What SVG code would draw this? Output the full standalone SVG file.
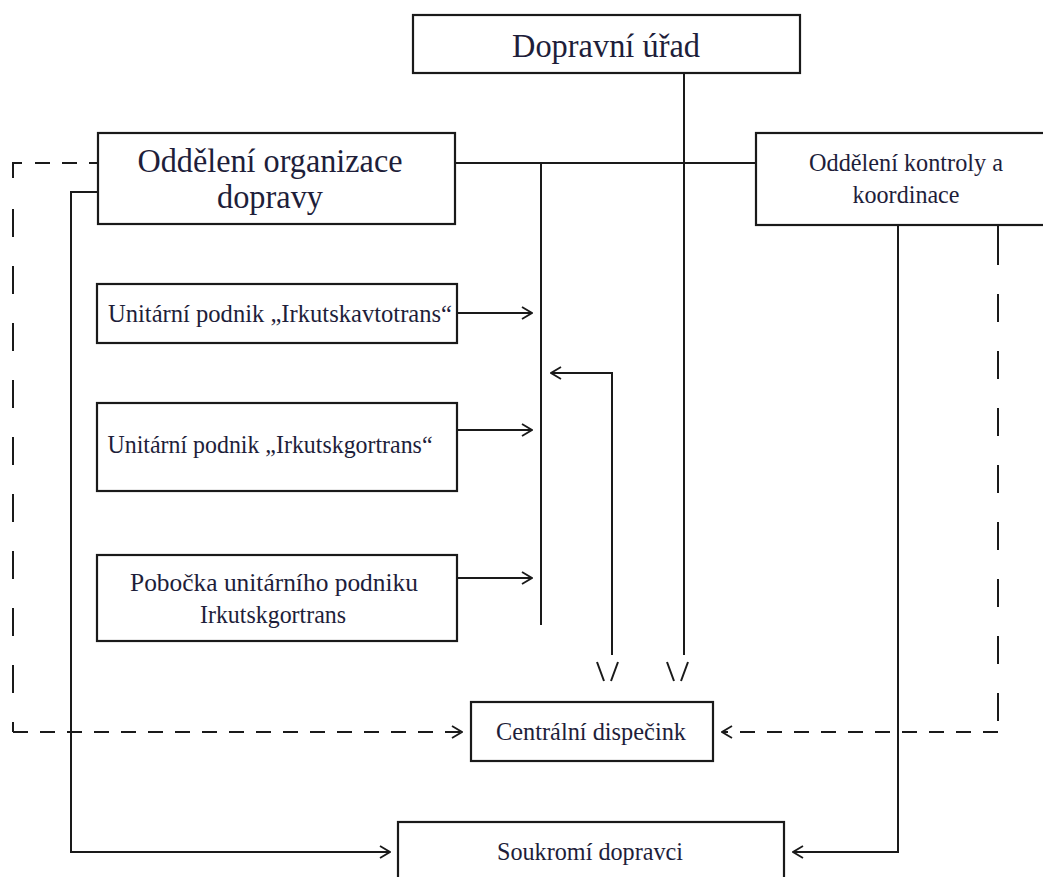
<svg xmlns="http://www.w3.org/2000/svg" width="1043" height="877" viewBox="0 0 1043 877">
<style>
.box{fill:#fff;stroke:#1a1a1a;stroke-width:2.2}
.t{font-family:"Liberation Serif","DejaVu Serif",serif;fill:#1e1e3a;text-anchor:middle}
.big{font-size:33px}
.sm{font-size:26px}
.ln{fill:none;stroke:#1a1a1a;stroke-width:2}
.dh{fill:none;stroke:#1a1a1a;stroke-width:2;stroke-dasharray:15 12}
.dv{fill:none;stroke:#1a1a1a;stroke-width:2;stroke-dasharray:28 29}
</style>
<defs>
<marker id="ah" viewBox="0 0 12 14" refX="11" refY="7" markerWidth="12" markerHeight="14" markerUnits="userSpaceOnUse" orient="auto">
<path d="M1,1 L11,7 L1,13" fill="none" stroke="#1a1a1a" stroke-width="1.8"/>
</marker>
</defs>
<rect width="1043" height="877" fill="#fff"/>

<g id="connectors">
<line class="ln" x1="684" y1="73" x2="684" y2="655"/>
<line class="ln" x1="456" y1="163" x2="756" y2="163"/>
<line class="ln" x1="541" y1="163" x2="541" y2="625"/>
<line class="ln" x1="457" y1="313" x2="532" y2="313" marker-end="url(#ah)"/>
<line class="ln" x1="457" y1="430" x2="532" y2="430" marker-end="url(#ah)"/>
<line class="ln" x1="457" y1="578" x2="532" y2="578" marker-end="url(#ah)"/>
<polyline class="ln" points="612,655 612,373 551,373" marker-end="url(#ah)"/>
<path class="ln" d="M597,662 L604,681 M611,681 L618,662"/>
<path class="ln" d="M667,662 L674,681 M681,681 L688,662"/>
<path class="ln" d="M98,192 H71 V852 H390" marker-end="url(#ah)"/>
<path class="ln" d="M898,225 V852 H793" marker-end="url(#ah)"/>
<path class="ln" d="M13,178 V163 H22"/>
<line class="dh" x1="35" y1="163" x2="98" y2="163" stroke-dasharray="13 9"/>
<line class="dv" x1="13" y1="209" x2="13" y2="732"/>
<line class="dh" x1="13" y1="732" x2="462" y2="732" marker-end="url(#ah)"/>
<line class="ln" x1="998" y1="225" x2="998" y2="237"/>
<line class="dv" x1="998" y1="237" x2="998" y2="732"/>
<line class="dh" x1="998" y1="732" x2="722" y2="732" marker-end="url(#ah)"/>
</g>

<g id="dopravni-urad">
<rect class="box" x="413" y="15" width="387" height="58"/>
<text class="t big" x="606" y="57" textLength="188" lengthAdjust="spacingAndGlyphs">Dopravní úřad</text>
</g>
<g id="oddeleni-organizace">
<rect class="box" x="98" y="133" width="357" height="91"/>
<text class="t big" x="270" y="172" textLength="265" lengthAdjust="spacingAndGlyphs">Oddělení organizace</text>
<text class="t big" x="270" y="208" textLength="106" lengthAdjust="spacingAndGlyphs">dopravy</text>
</g>
<g id="oddeleni-kontroly">
<rect class="box" x="756" y="133" width="302" height="92"/>
<text class="t sm" x="906" y="171" textLength="194" lengthAdjust="spacingAndGlyphs">Oddělení kontroly a</text>
<text class="t sm" x="906" y="203" textLength="107" lengthAdjust="spacingAndGlyphs">koordinace</text>
</g>
<g id="irkutskavtotrans">
<rect class="box" x="97" y="284" width="360" height="59"/>
<text class="t sm" x="280" y="322" textLength="344" lengthAdjust="spacingAndGlyphs">Unitární podnik „Irkutskavtotrans“</text>
</g>
<g id="irkutskgortrans">
<rect class="box" x="97" y="403" width="360" height="88"/>
<text class="t sm" x="270" y="453" textLength="325" lengthAdjust="spacingAndGlyphs">Unitární podnik „Irkutskgortrans“</text>
</g>
<g id="pobocka">
<rect class="box" x="97" y="555" width="360" height="86"/>
<text class="t sm" x="274" y="591" textLength="288" lengthAdjust="spacingAndGlyphs">Pobočka unitárního podniku</text>
<text class="t sm" x="273" y="623" textLength="146" lengthAdjust="spacingAndGlyphs">Irkutskgortrans</text>
</g>
<g id="centralni-dispecink">
<rect class="box" x="471" y="702" width="242" height="59"/>
<text class="t sm" x="591" y="740" textLength="190" lengthAdjust="spacingAndGlyphs">Centrální dispečink</text>
</g>
<g id="soukromi-dopravci">
<rect class="box" x="398" y="822" width="386" height="70"/>
<text class="t sm" x="590" y="860" textLength="186" lengthAdjust="spacingAndGlyphs">Soukromí dopravci</text>
</g>
</svg>
